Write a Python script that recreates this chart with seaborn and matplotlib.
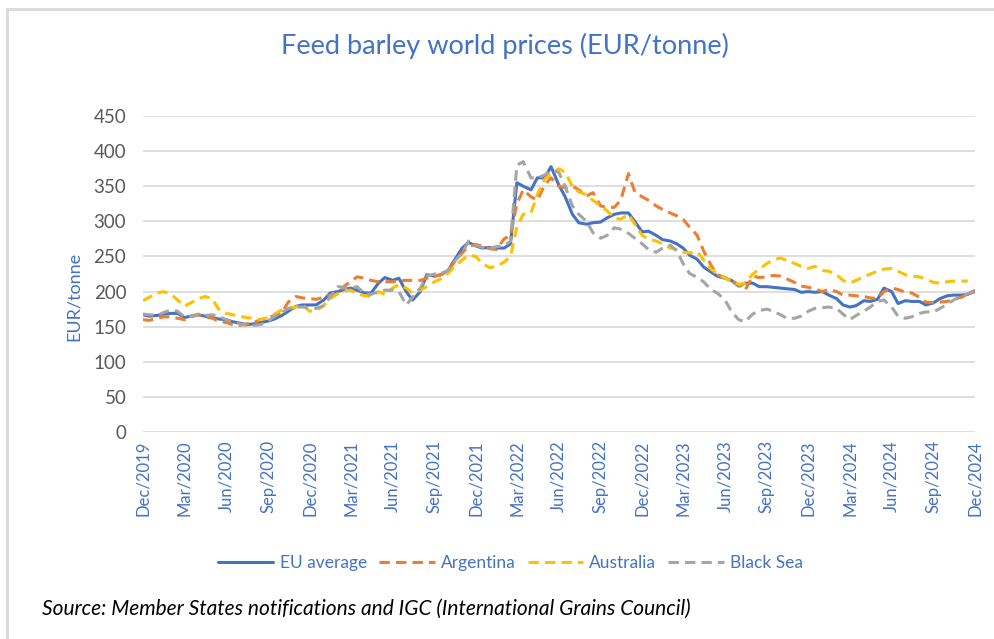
import numpy as np
import pandas as pd
import seaborn as sns
import matplotlib.pyplot as plt
import matplotlib.dates as mdates
from matplotlib.patches import Rectangle

eu_average = [167, 165, 166, 168, 169, 169, 163, 165, 167, 165, 163, 161, 160, 157, 155, 153,
              154, 156, 158, 161, 166, 172, 179, 181, 181, 181, 188, 198, 200, 203, 205, 202,
              198, 198, 212, 220, 216, 219, 200, 188, 200, 224, 222, 224, 230, 245, 262, 270,
              265, 262, 263, 262, 262, 268, 355, 350, 345, 362, 362, 378, 352, 335, 310, 298,
              296, 298, 299, 305, 310, 312, 312, 300, 285, 286, 280, 274, 272, 268, 262, 252,
              246, 235, 228, 222, 219, 216, 208, 212, 212, 207, 207, 206, 205, 204, 203, 199,
              200, 199, 200, 195, 190, 181, 178, 180, 187, 186, 189, 205, 200, 183, 187, 186,
              186, 181, 184, 190, 194, 195, 195, 196, 201]
argentina = [160, 159, 162, 164, 164, 162, 160, 164, 167, 164, 162, 158, 156, 153, 152, 154,
             156, 160, 163, 166, 170, 185, 193, 191, 190, 189, 192, 195, 196, 208, 214, 221,
             219, 216, 214, 214, 214, 215, 216, 216, 216, 219, 222, 224, 230, 242, 255, 265,
             267, 265, 261, 260, 275, 280, 325, 345, 335, 330, 352, 362, 350, 348, 350, 345,
             336, 341, 322, 320, 320, 330, 368, 342, 335, 330, 322, 317, 312, 308, 303, 292,
             280, 258, 238, 224, 220, 216, 210, 202, 222, 220, 221, 223, 222, 218, 213, 208,
             206, 204, 200, 203, 200, 195, 195, 194, 193, 191, 190, 200, 205, 203, 199, 198,
             192, 185, 184, 185, 186, 189, 192, 196, 200]
australia = [187, 192, 198, 200, 196, 188, 179, 184, 190, 193, 190, 175, 169, 167, 165, 163,
             162, 160, 163, 168, 174, 176, 178, 181, 172, 173, 180, 190, 197, 201, 202, 197,
             194, 193, 200, 196, 205, 210, 205, 198, 202, 207, 214, 218, 226, 236, 245, 252,
             250, 240, 234, 236, 242, 250, 292, 310, 312, 338, 360, 368, 375, 370, 350, 342,
             338, 330, 322, 315, 305, 303, 310, 296, 280, 275, 272, 268, 262, 260, 256, 255,
             257, 245, 232, 225, 219, 215, 210, 212, 225, 232, 240, 245, 248, 244, 240, 236,
             233, 236, 230, 229, 224, 216, 212, 216, 221, 225, 229, 232, 233, 229, 224, 222,
             221, 218, 213, 212, 214, 215, 215, 215, np.nan]
black_sea = [168, 167, 166, 170, 174, 172, 164, 165, 168, 166, 167, 165, 160, 157, 154, 152,
             152, 153, 158, 165, 170, 176, 178, 178, 177, 176, 180, 192, 207, 206, 205, 207,
             197, 196, 200, 202, 202, 200, 181, 192, 205, 222, 225, 226, 230, 243, 255, 272,
             266, 263, 262, 264, 265, 272, 380, 385, 362, 362, 366, 372, 370, 350, 322, 310,
             300, 284, 276, 280, 291, 289, 283, 276, 268, 260, 256, 262, 266, 258, 240, 226,
             220, 214, 203, 198, 188, 172, 160, 157, 168, 173, 175, 172, 167, 162, 162, 165,
             172, 176, 177, 178, 176, 168, 160, 166, 172, 178, 186, 188, 178, 165, 162, 164,
             169, 171, 171, 176, 182, 188, 193, 197, 202]

dates = pd.date_range('2019-12-01', periods=len(eu_average), freq='SMS')
series_names = ['EU average', 'Argentina', 'Australia', 'Black Sea']
colors = ['#4472C4', '#ED7D31', '#FFC000', '#A5A5A5']

df = pd.DataFrame({'date': dates, 'EU average': eu_average, 'Argentina': argentina,
                   'Australia': australia, 'Black Sea': black_sea})
long_df = df.melt(id_vars='date', var_name='series', value_name='price')

sns.set_style('white')
plt.rcParams['font.family'] = ['Lato', 'DejaVu Sans']

fig = plt.figure(figsize=(9.95, 6.39), dpi=100)
ax = fig.add_axes([0.1437, 0.3239, 0.8362, 0.4945])

dash = (3.4, 2.0)
sns.lineplot(data=long_df, x='date', y='price', hue='series', style='series',
             hue_order=series_names, style_order=series_names,
             palette=dict(zip(series_names, colors)),
             dashes={'EU average': '', 'Argentina': dash, 'Australia': dash, 'Black Sea': dash},
             linewidth=2.2, ax=ax)

ax.set_ylim(0, 450)
ax.set_yticks(range(0, 451, 50))
ax.set_xlim(pd.Timestamp('2019-12-01'), pd.Timestamp('2024-12-01'))
ax.xaxis.set_major_locator(mdates.MonthLocator(bymonth=[3, 6, 9, 12], bymonthday=1))
ax.xaxis.set_major_formatter(mdates.DateFormatter('%b/%Y'))
ax.tick_params(axis='x', labelrotation=90, labelsize=12, labelcolor='#4472C4', length=0, pad=6)
ax.tick_params(axis='y', labelsize=13.5, labelcolor='#595959', length=0, pad=12)
ax.grid(axis='y', color='#D9D9D9', linewidth=1.2)
ax.set_axisbelow(True)
for s in ax.spines.values():
    s.set_visible(False)

ax.set_xlabel('')
ax.set_ylabel('EUR/tonne', color='#4472C4', fontsize=13)
ax.yaxis.set_label_coords(-0.074, 0.43)
fig.text(0.507, 0.928, 'Feed barley world prices (EUR/tonne)', ha='center', va='center',
         color='#4472C4', fontsize=19.5)

handles, labels = ax.get_legend_handles_labels()
ax.legend(handles, labels, loc='center', bbox_to_anchor=(0.513, 0.119),
          bbox_transform=fig.transFigure, ncol=4, frameon=False, fontsize=12.5,
          labelcolor='#4472C4', handlelength=3.2, handletextpad=0.35, columnspacing=0.7)

fig.text(0.042, 0.047, 'Source: Member States notifications and IGC (International Grains Council)',
         ha='left', va='center', fontsize=15, style='italic', color='black')

fig.patches.append(Rectangle((0.007, -0.01), 1.05, 0.996, transform=fig.transFigure,
                             fill=False, edgecolor='#D9D9D9', linewidth=2))

fig.savefig('out.png', dpi=100)
